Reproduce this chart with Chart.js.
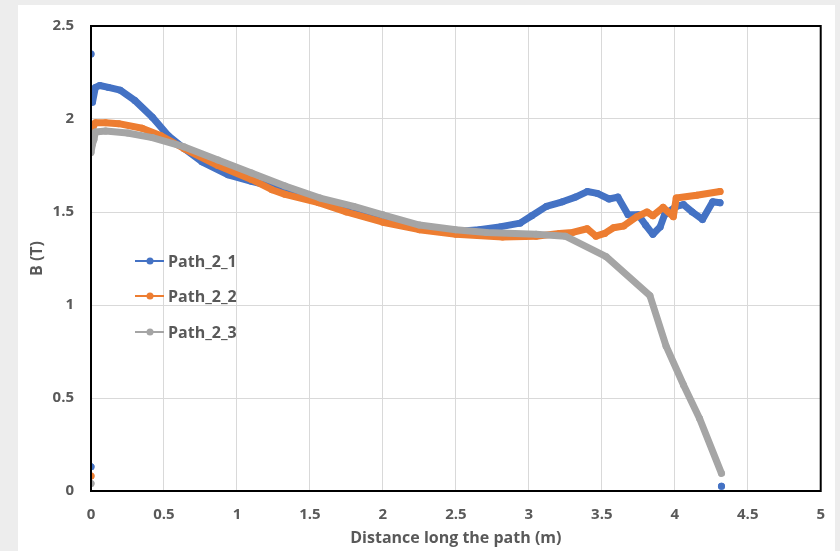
<!DOCTYPE html>
<html>
<head>
<meta charset="utf-8">
<script src="https://cdn.jsdelivr.net/npm/chart.js@4.4.1/dist/chart.umd.min.js"></script>
<style>
  html, body { margin: 0; padding: 0; background: #ededed; }
  #chLine { display: block; }
</style>
</head>
<body>
<canvas id="chLine" width="840" height="551"></canvas>
<script>
// series names
var seriesNames = [ 'Path_2_1', 'Path_2_2', 'Path_2_3' ];
// chart colors
var colors = [ '#4472c4', '#ed7d31', '#a5a5a5' ];

// Path_2_1 (null = break in the line)
var path21X = [ 0, null, 0, null, 0, 0.01, 0.03, 0.06, 0.12, 0.2, 0.3, 0.42, 0.53, 0.64, 0.76, 0.94, 1.1, 1.33, 1.5, 1.75, 2.0, 2.25, 2.5, 2.66, 2.8, 2.94, 3.02, 3.12, 3.23, 3.32, 3.4, 3.47, 3.55, 3.61, 3.68, 3.75, 3.8, 3.85, 3.9, 3.93, 4.01, 4.06, 4.12, 4.19, 4.26, 4.31, null, 4.32 ];
var path21Y = [ 0.13, null, 2.35, null, 2.16, 2.09, 2.17, 2.18, 2.17, 2.155, 2.1, 2.01, 1.91, 1.84, 1.77, 1.7, 1.665, 1.62, 1.575, 1.515, 1.46, 1.42, 1.395, 1.405, 1.42, 1.44, 1.48, 1.53, 1.555, 1.58, 1.61, 1.6, 1.57, 1.58, 1.485, 1.485, 1.43, 1.38, 1.42, 1.485, 1.53, 1.54, 1.5, 1.46, 1.555, 1.55, null, 0.025 ];

// Path_2_2
var path22X = [ 0, null, 0, 0.01, 0.03, 0.1, 0.19, 0.35, 0.48, 0.64, 0.87, 1.1, 1.24, 1.33, 1.56, 1.75, 2.0, 2.25, 2.5, 2.82, 3.05, 3.21, 3.3, 3.4, 3.46, 3.52, 3.58, 3.65, 3.74, 3.81, 3.85, 3.92, 3.99, 4.01, 4.15, 4.31 ];
var path22Y = [ 0.08, null, 1.9, 1.95, 1.98, 1.98, 1.975, 1.95, 1.91, 1.84, 1.75, 1.675, 1.62, 1.595, 1.55, 1.5, 1.445, 1.405, 1.38, 1.365, 1.37, 1.385, 1.39, 1.41, 1.37, 1.385, 1.415, 1.425, 1.475, 1.5, 1.48, 1.525, 1.475, 1.575, 1.59, 1.61 ];

// Path_2_3
var path23X = [ 0, null, 0, 0.01, 0.02, 0.03, 0.1, 0.25, 0.42, 0.64, 0.87, 1.1, 1.33, 1.57, 1.8, 2.0, 2.25, 2.5, 2.71, 3.05, 3.25, 3.53, 3.83, 3.94, 4.06, 4.17, 4.32 ];
var path23Y = [ 0.04, null, 1.82, 1.865, 1.89, 1.93, 1.935, 1.925, 1.9, 1.85, 1.78, 1.71, 1.64, 1.575, 1.53, 1.485, 1.43, 1.405, 1.39, 1.38, 1.37, 1.26, 1.05, 0.78, 0.57, 0.39, 0.095 ];

// axes
var xMin = 0, xMax = 5, xStep = 0.5;
var yMin = 0, yMax = 2.5, yStep = 0.5;
var xTitle = 'Distance long the path (m)';
var yTitle = 'B (T)';

var textColor = '#595959';
var fontFamily = '"Open Sans", "Liberation Sans", sans-serif';

function toPoints(xs, ys) {
	return xs.map(function (x, i) {
		return { x: x, y: ys[i] };
	});
}

function makeSet(i, xs, ys, order) {
	return {
		label: seriesNames[i],
		data: toPoints(xs, ys),
		showLine: true,
		spanGaps: false,
		borderColor: colors[i],
		backgroundColor: colors[i],
		borderWidth: 7,
		borderCapStyle: 'round',
		borderJoinStyle: 'round',
		pointRadius: 3.5,
		pointBorderWidth: 0,
		pointBackgroundColor: colors[i],
		order: order
	};
}

// plain numbers on the ticks: 0, 0.5, 1, 1.5 ...
function plainTick(value) {
	return String(Math.round(value * 100) / 100);
}

// grey page + white card behind the chart
var cardBg = {
	id: 'cardBg',
	beforeDraw: function (chart) {
		var ctx = chart.ctx;
		ctx.save();
		ctx.fillStyle = '#ededed';
		ctx.fillRect(0, 0, chart.width, chart.height);
		ctx.fillStyle = '#ffffff';
		ctx.fillRect(18, 5, 817, chart.height - 5);
		ctx.restore();
	}
};

// black frame round the plot area + legend inside the plot
var frameAndLegend = {
	id: 'frameAndLegend',
	afterDraw: function (chart) {
		var ctx = chart.ctx;
		var a = chart.chartArea;
		ctx.save();
		ctx.strokeStyle = '#000000';
		ctx.lineWidth = 2;
		ctx.strokeRect(a.left, a.top, a.right - a.left, a.bottom - a.top);

		var rows = [ 261, 296, 332 ];
		ctx.font = 'bold 16px ' + fontFamily;
		ctx.textBaseline = 'middle';
		ctx.textAlign = 'left';
		seriesNames.forEach(function (name, i) {
			var y = rows[i];
			ctx.strokeStyle = colors[i];
			ctx.lineWidth = 2;
			ctx.beginPath();
			ctx.moveTo(135, y);
			ctx.lineTo(164, y);
			ctx.stroke();
			ctx.fillStyle = colors[i];
			ctx.beginPath();
			ctx.arc(150, y, 3.5, 0, Math.PI * 2);
			ctx.fill();
			ctx.fillStyle = textColor;
			ctx.fillText(name, 168, y + 1);
		});
		ctx.restore();
	}
};

var chLine = document.getElementById('chLine');
new Chart(chLine, {
	type: 'scatter',
	data: {
		datasets: [
			makeSet(0, path21X, path21Y, 2),
			makeSet(1, path22X, path22Y, 1),
			makeSet(2, path23X, path23Y, 0)
		]
	},
	options: {
		responsive: false,
		animation: false,
		devicePixelRatio: 1,
		layout: { padding: { top: 19, right: 19, left: 0, bottom: 0 } },
		plugins: {
			legend: { display: false },
			tooltip: { enabled: false }
		},
		scales: {
			x: {
				type: 'linear',
				min: xMin,
				max: xMax,
				afterFit: function (scale) { scale.height = 60; },
				border: { display: false },
				grid: { color: '#d9d9d9', lineWidth: 1, drawTicks: false },
				ticks: {
					stepSize: xStep,
					padding: 15,
					color: textColor,
					callback: plainTick,
					font: { family: fontFamily, size: 15, weight: 'bold' }
				},
				title: {
					display: true,
					text: xTitle,
					color: textColor,
					padding: { top: 0, bottom: 3 },
					font: { family: fontFamily, size: 16, weight: 'bold' }
				}
			},
			y: {
				type: 'linear',
				min: yMin,
				max: yMax,
				afterFit: function (scale) { scale.width = 91; },
				border: { display: false },
				grid: { color: '#d9d9d9', lineWidth: 1, drawTicks: false },
				ticks: {
					stepSize: yStep,
					padding: 17,
					color: textColor,
					callback: plainTick,
					font: { family: fontFamily, size: 15, weight: 'bold' }
				},
				title: {
					display: true,
					text: yTitle,
					color: textColor,
					padding: { top: 28, bottom: 0 },
					font: { family: fontFamily, size: 16, weight: 'bold' }
				}
			}
		}
	},
	plugins: [ cardBg, frameAndLegend ]
});
</script>
</body>
</html>
